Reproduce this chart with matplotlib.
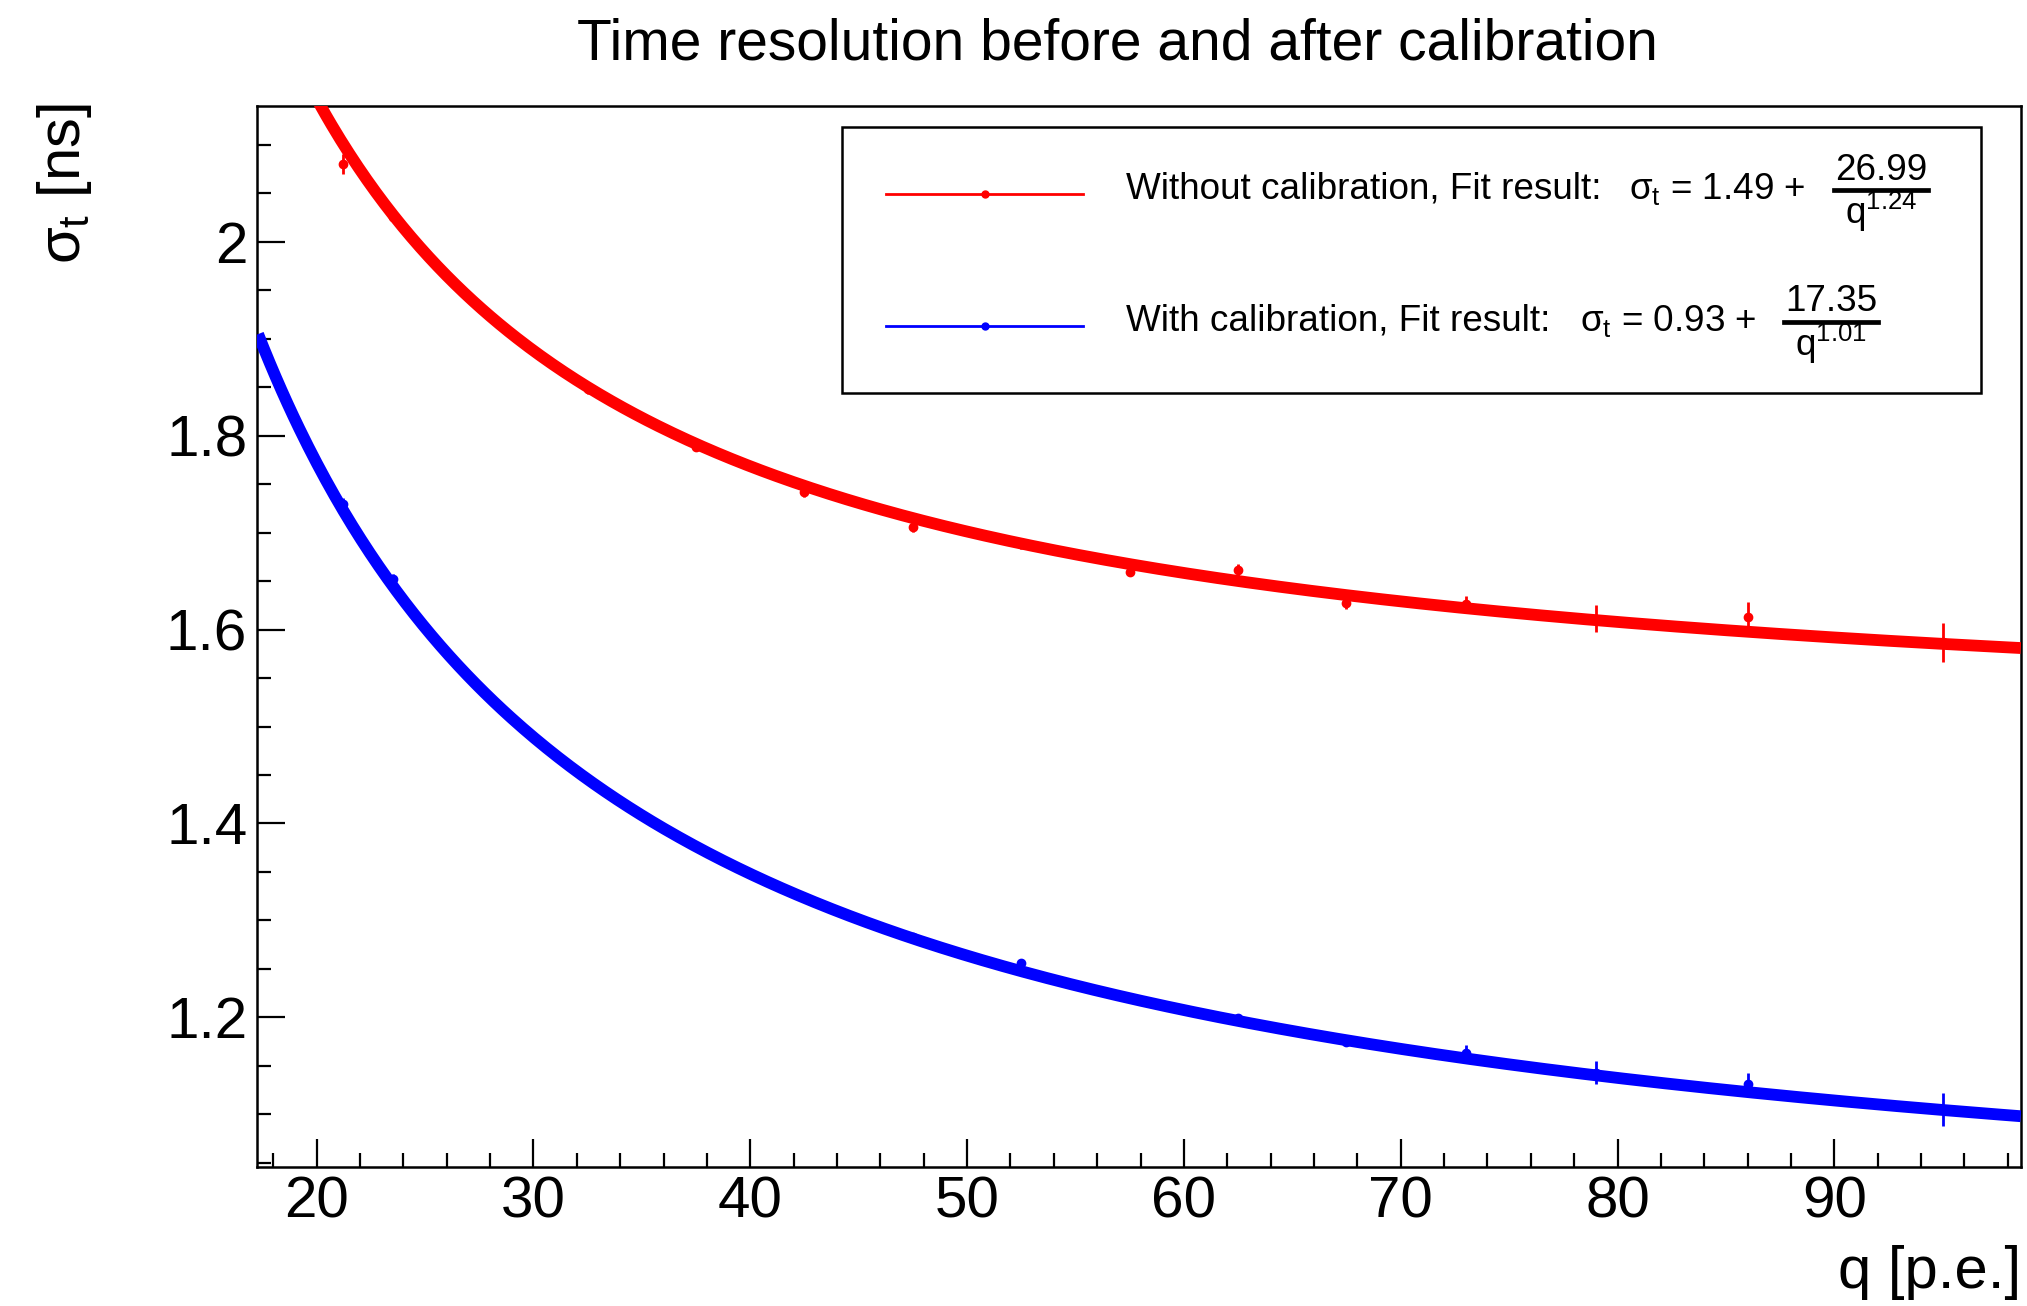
import numpy as np
import matplotlib
matplotlib.use("Agg")
import matplotlib.pyplot as plt
from matplotlib.ticker import MultipleLocator, FuncFormatter
from matplotlib.lines import Line2D
from matplotlib.patches import Rectangle

# ---------------- data ----------------
q_without = [21.2, 23.5, 32.5, 37.5, 42.5, 47.5, 52.5, 57.5, 62.5, 67.5, 73.0, 79.0, 86.0, 95.0]
sig_without = [2.080, 2.026, 1.848, 1.788, 1.742, 1.706, 1.688, 1.659, 1.661, 1.627, 1.626, 1.611, 1.613, 1.587]
err_without = [0.010, 0.006, 0.005, 0.004, 0.005, 0.005, 0.005, 0.004, 0.007, 0.006, 0.009, 0.014, 0.015, 0.020]

q_with = [21.2, 23.5, 47.5, 52.5, 62.5, 67.5, 73.0, 79.0, 86.0, 95.0]
sig_with = [1.730, 1.652, 1.283, 1.256, 1.199, 1.175, 1.163, 1.143, 1.131, 1.105]
err_with = [0.006, 0.005, 0.004, 0.004, 0.004, 0.005, 0.009, 0.012, 0.012, 0.017]

# fit results printed in the legend: sigma = a + b / q^c
fit_without = (1.49, 26.99, 1.24)
fit_with = (0.93, 17.35, 1.01)
fit_range = (17.3, 98.6)

x_limits = (17.25, 98.61)
y_limits = (1.0457, 2.140)

title = "Time resolution before and after calibration"
xlabel = "q [p.e.]"
ylabel = r"$\sigma_{t}$ [ns]"
label_without = "Without calibration, Fit result:"
label_with = "With calibration, Fit result:"

# ---------------- style ----------------
plt.rcParams['font.family'] = ['Liberation Sans', 'DejaVu Sans']
plt.rcParams['mathtext.fontset'] = 'custom'
plt.rcParams['mathtext.rm'] = 'Liberation Sans'
plt.rcParams['mathtext.it'] = 'Liberation Sans'
plt.rcParams['mathtext.bf'] = 'Liberation Sans:bold'

W, H = 2027, 1306
fig = plt.figure(figsize=(W / 100, H / 100), dpi=100)


def fx(px):
    return px / W


def fy(py):
    return 1 - py / H


ax = fig.add_axes([fx(257), fy(1167), (2021 - 257) / W, (1167 - 106) / H])

RED = (1, 0, 0)
BLUE = (0, 0, 1)


def fitfun(p, q):
    a, b, c = p
    return a + b / np.power(q, c)


qq = np.linspace(fit_range[0], fit_range[1], 600)

ax.errorbar(q_without, sig_without, yerr=err_without, fmt='o', color=RED,
            ms=6, elinewidth=2, capsize=0, zorder=2)
ax.errorbar(q_with, sig_with, yerr=err_with, fmt='o', color=BLUE,
            ms=6, elinewidth=2, capsize=0, zorder=2)
ax.plot(qq, fitfun(fit_without, qq), color=RED, lw=8.5, zorder=3,
        solid_capstyle='butt')
ax.plot(qq, fitfun(fit_with, qq), color=BLUE, lw=8.5, zorder=3,
        solid_capstyle='butt')

ax.set_xlim(*x_limits)
ax.set_ylim(*y_limits)

ax.xaxis.set_major_locator(MultipleLocator(10))
ax.xaxis.set_minor_locator(MultipleLocator(2))
ax.yaxis.set_major_locator(MultipleLocator(0.2))
ax.yaxis.set_minor_locator(MultipleLocator(0.05))
ax.yaxis.set_major_formatter(FuncFormatter(lambda v, p: f"{v:g}"))
ax.xaxis.set_major_formatter(FuncFormatter(lambda v, p: f"{v:g}"))

ax.tick_params(axis='both', which='both', direction='in', top=False, right=False,
               width=1.6, labelsize=42)
ax.tick_params(axis='both', which='major', length=20)
ax.tick_params(axis='both', which='minor', length=10)
ax.tick_params(axis='x', which='major', pad=6)
ax.tick_params(axis='y', which='major', pad=7)
for s in ax.spines.values():
    s.set_linewidth(1.8)

# titles
fig.text(fx(1117), fy(45), title, ha='center', va='center', fontsize=41)
fig.text(fx(2021), fy(1273), xlabel, ha='right', va='center', fontsize=43)
fig.text(fx(65), fy(103), ylabel, ha='center', va='top', rotation=90, fontsize=43)

# legend box
fig.add_artist(Rectangle((fx(842), fy(393)), (1981 - 842) / W, (393 - 127) / H,
                         transform=fig.transFigure, fill=False, lw=1.8, ec='black',
                         zorder=5))

rows = [
    (RED, 194, 189, label_without, fit_without, 1629, 1881, 94),
    (BLUE, 326, 321, label_with, fit_with, 1580, 1831, 94),
]
for color, ly, ty, lab, p, sx, fcx, fw in rows:
    fig.add_artist(Line2D([fx(886), fx(1083)], [fy(ly), fy(ly)], color=color, lw=2,
                          transform=fig.transFigure))
    fig.add_artist(Line2D([fx(985)], [fy(ly)], color=color, marker='o', ms=5,
                          transform=fig.transFigure))
    fig.text(fx(1126), fy(ty), lab, ha='left', va='center', fontsize=26.6)
    fig.text(fx(sx), fy(ty), r"$\sigma_{t}$ = %.2f +" % p[0], ha='left', va='center',
             fontsize=26.6)
    fig.text(fx(fcx), fy(ty - 19), "%.2f" % p[1], ha='center', va='center', fontsize=26.6)
    fig.add_artist(Line2D([fx(fcx - fw / 2), fx(fcx + fw / 2)], [fy(ty + 1), fy(ty + 1)],
                          color='black', lw=3.4, transform=fig.transFigure))
    fig.text(fx(fcx), fy(ty + 23), r"q$^{%.2f}$" % p[2], ha='center', va='center',
             fontsize=26.6)

fig.savefig("out.png", dpi=100)
